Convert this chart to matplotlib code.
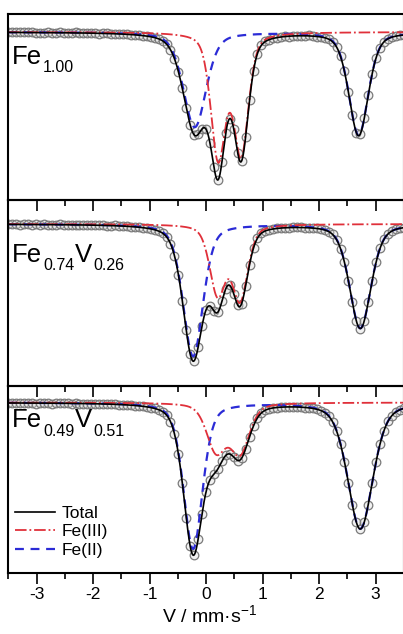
import numpy as np
import matplotlib
matplotlib.use('Agg')
import matplotlib.pyplot as plt
from matplotlib.lines import Line2D
from matplotlib.ticker import MultipleLocator

plt.rcParams['font.family'] = ['Liberation Sans', 'DejaVu Sans']
plt.rcParams['mathtext.fontset'] = 'custom'
plt.rcParams['mathtext.rm'] = 'Liberation Sans'
plt.rcParams['axes.unicode_minus'] = False

# sample names as (text, is_subscript) pieces
labels = [[('Fe', False), ('1.00', True)],
          [('Fe', False), ('0.74', True), ('V', False), ('0.26', True)],
          [('Fe', False), ('0.49', True), ('V', False), ('0.51', True)]]

# measured channels, velocity in mm/s
v_data = np.linspace(-3.5, 3.5, 101)

# transmission (%)
t_fe100 = [100.02, 99.98, 100.01, 99.98, 100.00, 99.98, 99.99, 99.97, 99.95, 99.97,
           99.99, 99.97, 99.96, 99.98, 99.96, 99.94, 99.96, 99.98, 99.95, 99.93,
           99.95, 99.96, 99.94, 99.92, 99.93, 99.95, 99.92, 99.90, 99.90, 99.92,
           99.89, 99.86, 99.86, 99.85, 99.80, 99.80, 99.77, 99.70, 99.66, 99.55,
           99.39, 99.12, 98.67, 98.02, 97.18, 96.22, 95.35, 94.85, 94.88, 95.16,
           95.14, 94.44, 93.24, 92.60, 93.49, 94.97, 95.67, 95.15, 93.96, 93.55,
           94.75, 96.58, 98.06, 98.92, 99.34, 99.53, 99.62, 99.68, 99.70, 99.75,
           99.78, 99.77, 99.80, 99.82, 99.79, 99.81, 99.83, 99.80, 99.76, 99.75,
           99.71, 99.64, 99.51, 99.25, 98.78, 98.03, 96.98, 95.83, 94.97, 94.90,
           95.68, 96.83, 97.91, 98.71, 99.22, 99.51, 99.66, 99.74, 99.79, 99.83, 99.85]
t_fe074 = [99.98, 100.01, 99.98, 99.96, 100.00, 99.98, 99.95, 99.98, 99.97, 99.99,
           99.97, 99.95, 99.97, 99.99, 99.97, 99.96, 99.94, 99.96, 99.97, 99.95,
           99.93, 99.95, 99.94, 99.96, 99.93, 99.91, 99.92, 99.94, 99.91, 99.90,
           99.89, 99.87, 99.86, 99.84, 99.82, 99.79, 99.76, 99.71, 99.65, 99.54,
           99.36, 99.02, 98.42, 97.47, 96.16, 94.69, 93.48, 93.16, 93.84, 94.92,
           95.71, 95.90, 95.66, 95.60, 96.13, 96.77, 96.93, 96.51, 95.95, 96.02,
           96.90, 97.97, 98.80, 99.29, 99.54, 99.66, 99.72, 99.75, 99.78, 99.80,
           99.81, 99.82, 99.83, 99.85, 99.83, 99.82, 99.81, 99.80, 99.78, 99.75,
           99.70, 99.62, 99.48, 99.22, 98.77, 98.08, 97.15, 96.08, 95.16, 94.77,
           95.16, 96.09, 97.16, 98.09, 98.79, 99.24, 99.50, 99.65, 99.73, 99.78, 99.82]
t_fe049 = [99.98, 99.96, 99.99, 99.98, 99.97, 99.98, 99.97, 99.95, 99.97, 99.98,
           99.97, 99.95, 99.97, 99.96, 99.98, 99.96, 99.94, 99.96, 99.95, 99.95,
           99.93, 99.94, 99.95, 99.93, 99.91, 99.92, 99.93, 99.91, 99.90, 99.89,
           99.88, 99.87, 99.85, 99.84, 99.81, 99.79, 99.75, 99.71, 99.64, 99.54,
           99.37, 99.05, 98.44, 97.43, 95.97, 94.25, 92.80, 92.38, 93.17, 94.45,
           95.53, 96.14, 96.42, 96.68, 97.06, 97.36, 97.42, 97.27, 97.10, 97.22,
           97.68, 98.29, 98.83, 99.23, 99.48, 99.62, 99.69, 99.73, 99.75, 99.77,
           99.78, 99.80, 99.78, 99.76, 99.77, 99.75, 99.73, 99.71, 99.67, 99.60,
           99.50, 99.32, 99.03, 98.58, 97.92, 97.03, 95.97, 94.88, 94.01, 93.67,
           94.02, 94.89, 95.98, 97.04, 97.93, 98.60, 99.06, 99.35, 99.53, 99.64, 99.71]
spectra = [t_fe100, t_fe074, t_fe049]

# fitted doublets: line centre (mm/s), depth (%), fwhm (mm/s)
fe2_center = [[-0.20, 2.70], [-0.23, 2.73], [-0.23, 2.73]]
fe2_depth = [[4.75, 5.15], [6.6, 5.2], [7.3, 6.3]]
fe2_fwhm = [[0.48, 0.41], [0.42, 0.45], [0.40, 0.53]]
fe3_center = [[0.215, 0.62], [0.205, 0.60], [0.18, 0.60]]
fe3_depth = [[6.2, 5.97], [3.44, 3.7], [2.37, 2.44]]
fe3_fwhm = [[0.31, 0.31], [0.33, 0.33], [0.40, 0.40]]

ylims = [(91.625, 100.9), (91.925, 101.225), (91.49, 100.85)]
# baseline of the sample name, pixels from the top of the figure
label_base = [63.5, 261.5, 427.0]


def line(v, c, d, w, eta=0.4):
    # pseudo-Voigt absorption line
    x = (v - c) / (w / 2)
    return d * (eta / (1 + x ** 2) + (1 - eta) * np.exp(-np.log(2) * x ** 2))


def doublet(v, centers, depths, widths):
    return sum(line(v, c, d, w) for c, d, w in zip(centers, depths, widths))


def chem_label(fig, x_px, base_px, parts):
    W, H = fig.bbox.width, fig.bbox.height
    renderer = fig.canvas.get_renderer()
    x = x_px
    for s, sub in parts:
        y = H - base_px - (8.5 if sub else 0)
        t = fig.text(x / W, y / H, s, fontsize=11.5 if sub else 18.5,
                     ha='left', va='baseline')
        x = t.get_window_extent(renderer).x1 + 0.8


v_fit = np.linspace(-3.6, 3.6, 1441)

fig = plt.figure(figsize=(4.03, 6.34), dpi=100)
boxes = [(0.0206, 0.6853, 0.9814, 0.2926),
         (0.0206, 0.3919, 0.9814, 0.2934),
         (0.0206, 0.0967, 0.9814, 0.2952)]

blue = '#2b2bd6'
red = '#e0303a'

for i in range(3):
    ax = fig.add_axes(boxes[i])
    ax.set_facecolor('none')
    fe2 = doublet(v_fit, fe2_center[i], fe2_depth[i], fe2_fwhm[i])
    fe3 = doublet(v_fit, fe3_center[i], fe3_depth[i], fe3_fwhm[i])

    ax.plot(v_data, spectra[i], 'o', ms=6.2, mfc=(0.85, 0.85, 0.85, 0.35),
            mec='#7a7a7a', mew=0.9)
    ax.plot(v_fit, 100 - fe2, color=blue, lw=1.6, dashes=(4, 3))
    ax.plot(v_fit, 100 - fe3, '-.', color=red, lw=1.3)
    ax.plot(v_fit, 100 - fe2 - fe3, '-', color='black', lw=1.2)

    ax.set_xlim(-3.5, 3.5)
    ax.set_ylim(*ylims[i])
    ax.set_yticks([])
    for s in ax.spines.values():
        s.set_linewidth(1.5)
    ax.xaxis.set_major_locator(MultipleLocator(1))
    ax.xaxis.set_minor_locator(MultipleLocator(0.5))
    ax.tick_params(axis='x', which='major', direction='out', length=8, width=1.2,
                   labelsize=12.5, pad=2)
    ax.tick_params(axis='x', which='minor', direction='out', length=4, width=1.2)
    if i < 2:
        ax.tick_params(axis='x', labelbottom=False)
    else:
        handles = [Line2D([], [], color='black', lw=1.2),
                   Line2D([], [], color=red, lw=1.3, ls='-.'),
                   Line2D([], [], color=blue, lw=1.6, dashes=(4, 3))]
        ax.legend(handles, ['Total', 'Fe(III)', 'Fe(II)'], loc='center left',
                  bbox_to_anchor=(0.017, 0.219), frameon=False, fontsize=12.5,
                  handlelength=2.3, handletextpad=0.4, labelspacing=0.2,
                  borderpad=0, borderaxespad=0)

for i in range(3):
    chem_label(fig, 12.0, label_base[i], labels[i])

fig.text(0.521, 1 - 623.5 / 634, 'V / mm·s$^{\\mathregular{-1}}$', fontsize=14,
         ha='center', va='baseline')

fig.savefig('out.png', dpi=100)
